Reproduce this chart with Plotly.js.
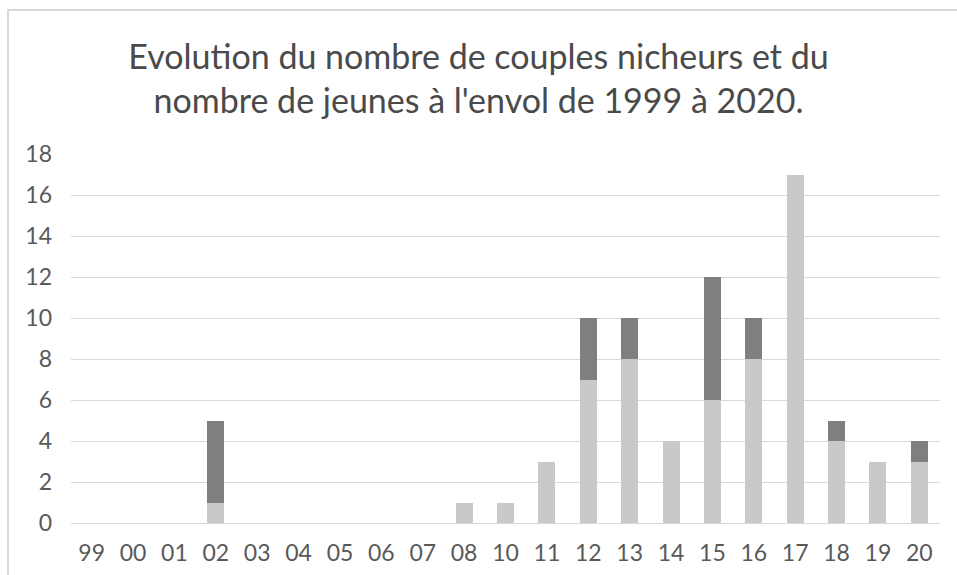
<!DOCTYPE html>
<html>
<head>
<meta charset="utf-8">
<script src="https://cdn.plot.ly/plotly-3.0.1.min.js"></script>
<style>
html,body{margin:0;padding:0;background:#fff;overflow:hidden;}
#chart{width:957px;height:575px;}
#frame{position:absolute;left:7px;top:9px;width:1000px;height:700px;border-left:2px solid #d9d9d9;border-top:2px solid #d9d9d9;pointer-events:none;}
</style>
</head>
<body>
<div id="chart"></div>
<div id="frame"></div>
<script>
const categories = ["99","00","01","02","03","04","05","06","07","08","10","11","12","13","14","15","16","17","18","19","20"];
const jeunes =     [0,0,0,1,0,0,0,0,0,1,1,3,7,8,4,6,8,17,4,3,3];
const couples =    [0,0,0,4,0,0,0,0,0,0,0,0,3,2,0,6,2,0,1,0,1];
const yTicks = [0,2,4,6,8,10,12,14,16,18];

const traces = [
  {type:'bar', x:categories, y:jeunes, name:'Jeunes à l\'envol', marker:{color:'#c9c9c9'}, hoverinfo:'x+y'},
  {type:'bar', x:categories, y:couples, name:'Couples nicheurs', marker:{color:'#7f7f7f'}, hoverinfo:'x+y'}
];

const layout = {
  width:957, height:575,
  barmode:'stack',
  bargap:0.59,
  showlegend:false,
  paper_bgcolor:'#ffffff',
  plot_bgcolor:'#ffffff',
  margin:{l:71, r:17, t:154, b:52},
  font:{family:'Lato, "Open Sans", sans-serif', color:'#595959'},
  title:{
    text:'Evolution du nombre de couples nicheurs et du<br>nombre de jeunes à l\'envol de 1999 à 2020.',
    font:{family:'Lato, "Open Sans", sans-serif', size:34, color:'#4a4a4a'},
    x:0.5, xanchor:'center', xref:'container',
    y:1-69/575, yanchor:'middle', yref:'container'
  },
  xaxis:{
    type:'category',
    categoryorder:'array', categoryarray:categories,
    showgrid:false, zeroline:false, showline:false,
    ticks:'', tickfont:{size:23, color:'#595959'},
    ticklabelstandoff:14
  },
  yaxis:{
    range:[0,18],
    tickvals:yTicks,
    ticktext:yTicks.map(String),
    showgrid:true, gridcolor:'#d9d9d9', gridwidth:1,
    zeroline:true, zerolinecolor:'#d9d9d9', zerolinewidth:1,
    showline:false, ticks:'',
    tickfont:{size:23, color:'#595959'},
    ticklabelstandoff:18
  }
};

Plotly.newPlot('chart', traces, layout, {displayModeBar:false, staticPlot:true});
</script>
</body>
</html>
